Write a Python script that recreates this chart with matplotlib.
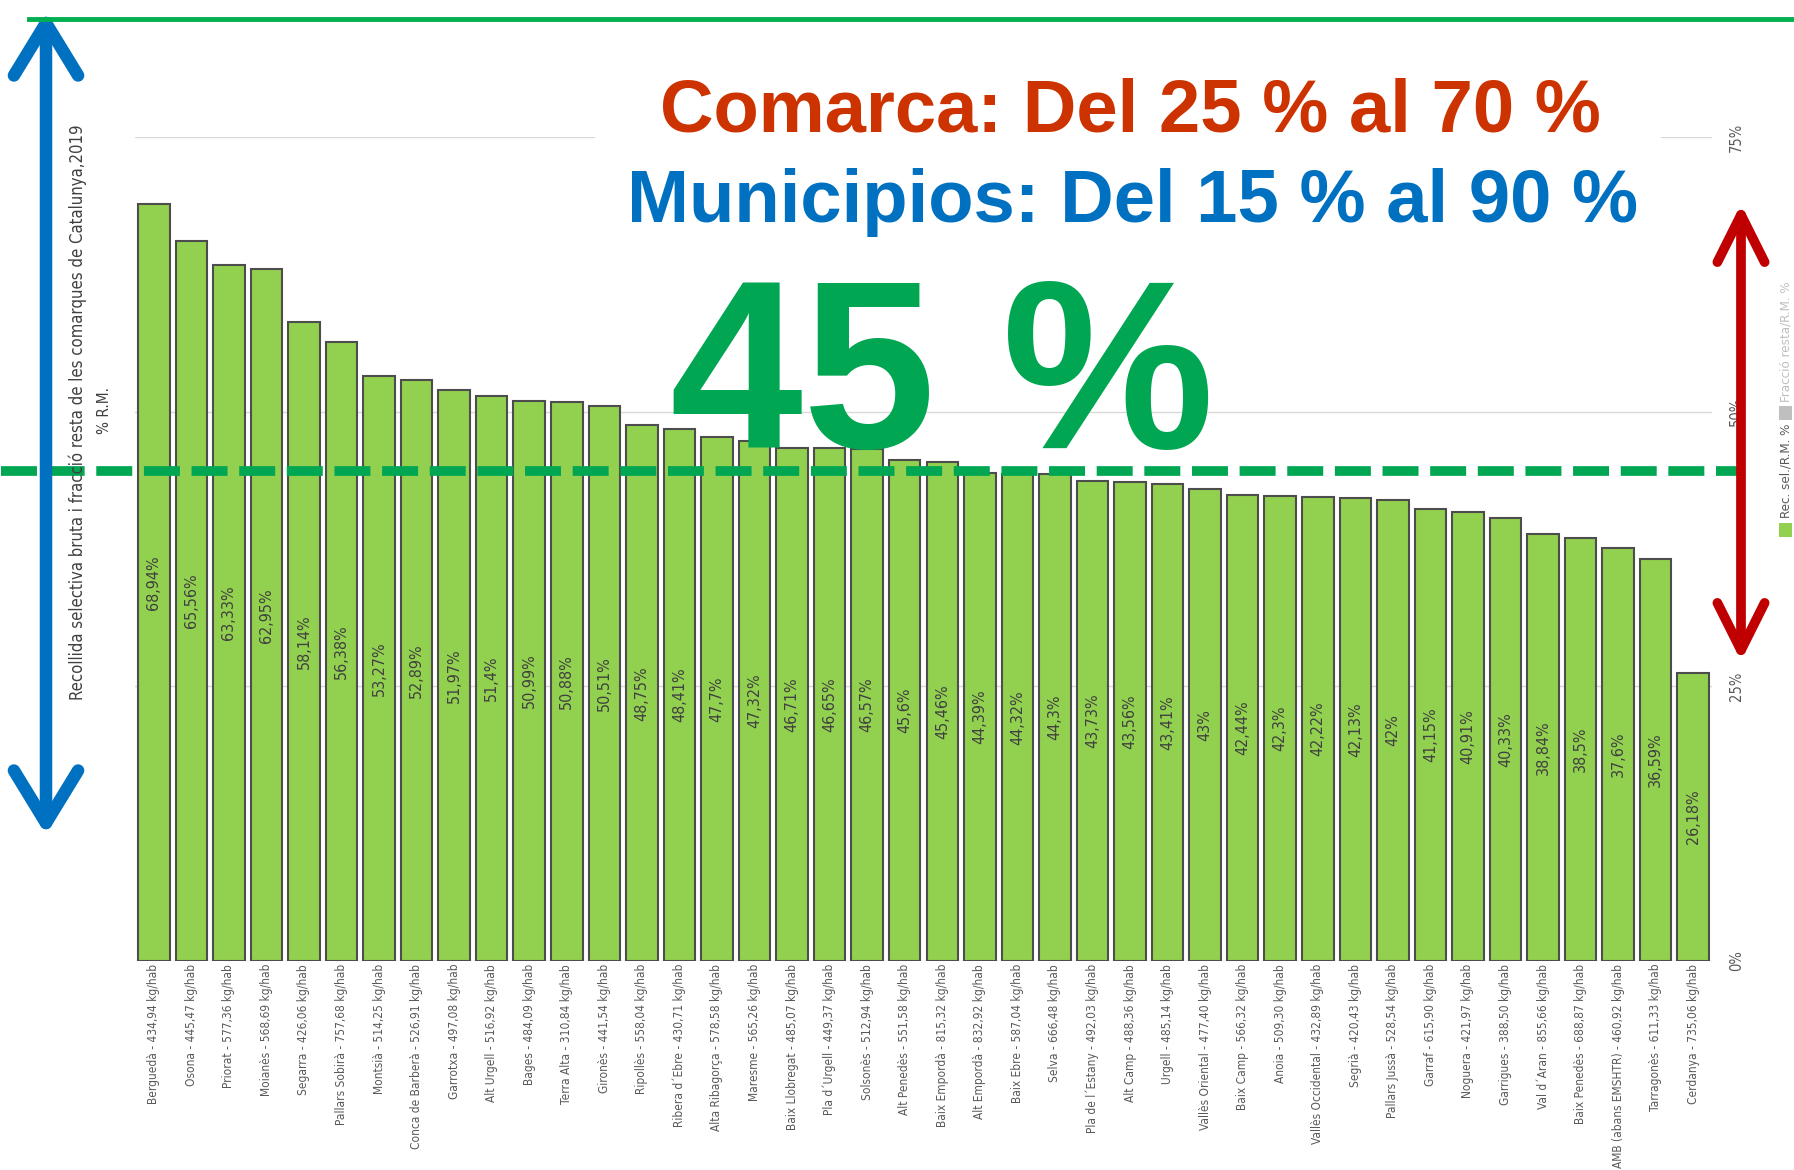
import matplotlib
matplotlib.use("Agg")
import matplotlib.pyplot as plt
from matplotlib import font_manager
from matplotlib.font_manager import FontProperties
from matplotlib.patches import Rectangle, FancyArrowPatch
from matplotlib.lines import Line2D

# Dades: recollida selectiva bruta / R.M. per comarca, 2019
comarques = ["Berguedà", "Osona", "Priorat", "Moianès", "Segarra", "Pallars Sobirà",
             "Montsià", "Conca de Barberà", "Garrotxa", "Alt Urgell", "Bages", "Terra Alta",
             "Gironès", "Ripollès", "Ribera d´Ebre", "Alta Ribagorça", "Maresme",
             "Baix Llobregat", "Pla d´Urgell", "Solsonès", "Alt Penedès", "Baix Empordà",
             "Alt Empordà", "Baix Ebre", "Selva", "Pla de l´Estany", "Alt Camp", "Urgell",
             "Vallès Oriental", "Baix Camp", "Anoia", "Vallès Occidental", "Segrià",
             "Pallars Jussà", "Garraf", "Noguera", "Garrigues", "Val d´Aran", "Baix Penedès",
             "AMB (abans EMSHTR)", "Tarragonès", "Cerdanya"]
kg_hab = ["434,94", "445,47", "577,36", "568,69", "426,06", "757,68", "514,25", "526,91",
          "497,08", "516,92", "484,09", "310,84", "441,54", "558,04", "430,71", "578,58",
          "565,26", "485,07", "449,37", "512,94", "551,58", "815,32", "832,92", "587,04",
          "666,48", "492,03", "488,36", "485,14", "477,40", "566,32", "509,30", "432,89",
          "420,43", "528,54", "615,90", "421,97", "388,50", "855,66", "688,87", "460,92",
          "611,33", "735,06"]
rec_sel = [68.94, 65.56, 63.33, 62.95, 58.14, 56.38, 53.27, 52.89, 51.97, 51.4, 50.99,
           50.88, 50.51, 48.75, 48.41, 47.7, 47.32, 46.71, 46.65, 46.57, 45.6, 45.46,
           44.39, 44.32, 44.3, 43.73, 43.56, 43.41, 43, 42.44, 42.3, 42.22, 42.13, 42,
           41.15, 40.91, 40.33, 38.84, 38.5, 37.6, 36.59, 26.18]
y_ticks = [0, 25, 50, 75]
mitjana = 44.6

# font estreta si n'hi ha alguna
narrow_path = None
for f in font_manager.fontManager.ttflist:
    low = f.name.lower()
    is_cond = f.stretch in ("condensed", "semi-condensed") or "narrow" in low or "condensed" in low
    if is_cond and f.style == "normal" and f.weight in (400, "normal", "regular"):
        narrow_path = f.fname
        if "dejavu" in low or "liberation" in low:
            break
scale = 1.0 if narrow_path else 0.82


def nfont(size):
    if narrow_path:
        return FontProperties(fname=narrow_path, size=size * scale)
    return FontProperties(family="DejaVu Sans", size=size * scale)


names = {f.name for f in font_manager.fontManager.ttflist}
bold_font = "Liberation Sans" if "Liberation Sans" in names else "DejaVu Sans"

W, H = 1794, 1170
fx = lambda px: px / W
fy = lambda py: 1 - py / H

fig = plt.figure(figsize=(W / 100, H / 100), dpi=100)
ax = fig.add_axes([fx(135), fy(961), fx(1712) - fx(135), fy(137) - fy(961)])

x = list(range(len(rec_sel)))
ax.bar(x, rec_sel, width=0.84, color="#92D050", edgecolor="#4d4d4d", linewidth=1.5, zorder=2)

for xi, v in zip(x, rec_sel):
    lab = f"{v:g}".replace(".", ",") + "%"
    ax.text(xi, v / 2, lab, rotation=90, ha="center", va="center",
            fontproperties=nfont(11.5), color="#404040", zorder=3)

ax.set_xlim(-0.5, len(rec_sel) - 0.5)
ax.set_ylim(0, 75)
ax.set_xticks(x)
ax.set_xticklabels([f"{c} - {k} kg/hab" for c, k in zip(comarques, kg_hab)],
                   rotation=90, color="#595959")
for t in ax.get_xticklabels():
    t.set_fontproperties(nfont(8.6))
ax.yaxis.tick_right()
ax.set_yticks(y_ticks)
ax.set_yticklabels([f"{t}%" for t in y_ticks], rotation=90, va="center", color="#595959")
for t in ax.get_yticklabels():
    t.set_fontproperties(nfont(10.5))
ax.tick_params(length=0, axis="x", pad=2)
ax.tick_params(length=0, axis="y", pad=12)
ax.grid(axis="y", color="#d9d9d9", linewidth=1, zorder=0)
for s in ax.spines.values():
    s.set_visible(False)

# línia discontínua de la mitjana
ax.axhline(mitjana, xmin=-0.085, xmax=1.02, color="#00A651", linewidth=7,
           linestyle=(0, (3.7, 1.2)), clip_on=False, zorder=4)

# caixa blanca dels títols
fig.patches.append(Rectangle((fx(595), fy(235)), fx(1661) - fx(595), fy(60) - fy(235),
                             transform=fig.transFigure, facecolor="white",
                             edgecolor="none", zorder=5))

fig.text(fx(1130), fy(132), "Comarca: Del 25 % al 70 %", ha="center", va="baseline",
         fontsize=53.5, fontweight="bold", color="#CC3300", family=bold_font, zorder=6)
fig.text(fx(1133), fy(222), "Municipios: Del 15 % al 90 %", ha="center", va="baseline",
         fontsize=53.5, fontweight="bold", color="#0070C0", family=bold_font, zorder=6)
fig.text(fx(942), fy(448), "45 %", ha="center", va="baseline",
         fontsize=172, fontweight="bold", color="#00A651", family=bold_font, zorder=6)

# títol de l'eix
fig.text(fx(78), fy(412), "Recollida selectiva bruta i fracció resta de les comarques de Catalunya,2019",
         rotation=90, ha="center", va="center", fontproperties=nfont(12), color="#404040")
fig.text(fx(104), fy(410), "% R.M.", rotation=90, ha="center", va="center",
         fontproperties=nfont(11), color="#404040")

# llegenda
fig.text(fx(1786), fy(402), "Fracció resta/R.M. %", rotation=90, ha="center", va="bottom",
         fontproperties=nfont(9.5), color="#BFBFBF")
fig.patches.append(Rectangle((fx(1779), fy(420)), fx(13), fx(14) * W / H,
                             transform=fig.transFigure, facecolor="#BFBFBF", edgecolor="none"))
fig.text(fx(1786), fy(518), "Rec. sel./R.M. %", rotation=90, ha="center", va="bottom",
         fontproperties=nfont(9.5), color="#595959")
fig.patches.append(Rectangle((fx(1779), fy(537)), fx(13), fx(14) * W / H,
                             transform=fig.transFigure, facecolor="#92D050", edgecolor="none"))

# línia verda superior
fig.lines.append(Line2D([fx(29), 1.0], [fy(19), fy(19)], transform=fig.transFigure,
                        color="#00B050", linewidth=3.5))

# fletxes
fig.add_artist(FancyArrowPatch(
    (fx(46), fy(835)), (fx(46), fy(11)), transform=fig.transFigure,
    arrowstyle="<->,head_length=0.9,head_width=0.55", mutation_scale=42,
    color="#0070C0", linewidth=9, capstyle="round", shrinkA=0, shrinkB=0))
fig.add_artist(FancyArrowPatch(
    (fx(1741), fy(661)), (fx(1741), fy(204)), transform=fig.transFigure,
    arrowstyle="<->,head_length=1.0,head_width=0.5", mutation_scale=34,
    color="#C00000", linewidth=7, capstyle="round", shrinkA=0, shrinkB=0))

fig.savefig("out.png", dpi=100)
